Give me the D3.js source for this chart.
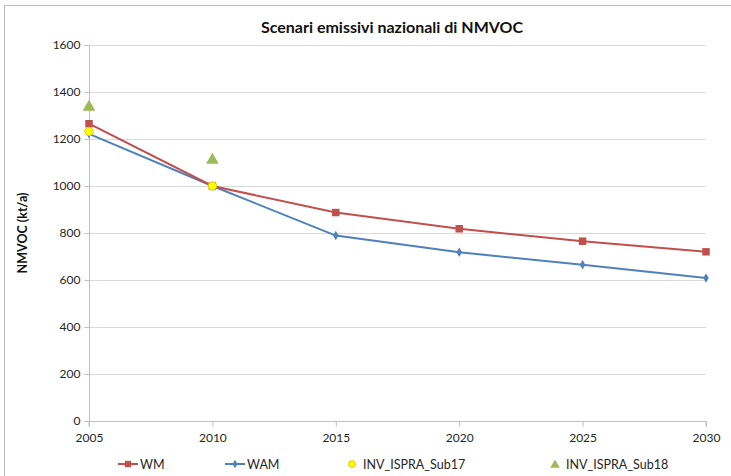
<!DOCTYPE html>
<html>
<head>
<meta charset="utf-8">
<script src="https://cdn.jsdelivr.net/npm/d3@7"></script>
<style>
  html, body { margin: 0; padding: 0; background: #fff; }
  svg { display: block; font-family: Lato, "Open Sans", sans-serif; }
</style>
</head>
<body>
<svg id="chart" width="731" height="476"></svg>
<script>
// Scenari emissivi nazionali di NMVOC (kt/a)
const years = [2005, 2010, 2015, 2020, 2025, 2030];
const wm = [1265, 1000, 887, 818, 765, 720];
const wam = [1222, 1000, 789, 718, 665, 609];
const sub17Years = [2005, 2010];
const sub17 = [1232, 1000];
const sub18Years = [2005, 2010];
const sub18 = [1340, 1115];
const yTicks = [0, 200, 400, 600, 800, 1000, 1200, 1400, 1600];
const xTicks = [2005, 2010, 2015, 2020, 2025, 2030];

const colors = { wm: "#C0504D", wam: "#4F81BD", sub17: "#FFFF00", sub17Stroke: "#E3C800", sub18: "#9BBB59" };

const svg = d3.select("#chart");

// outer chart frame
svg.append("rect").attr("x", 4.5).attr("y", 5.5).attr("width", 740).attr("height", 480)
  .attr("fill", "#fff").attr("stroke", "#bdbdbd").attr("stroke-width", 1);

const x = d3.scaleLinear().domain([2005, 2030]).range([89, 706]);
const y = d3.scaleLinear().domain([0, 1600]).range([421, 45]);

// gridlines
svg.append("g")
  .selectAll("line").data(yTicks.filter(d => d > 0)).join("line")
  .attr("x1", x(2005)).attr("x2", x(2030))
  .attr("y1", d => Math.round(y(d)) + 0.5).attr("y2", d => Math.round(y(d)) + 0.5)
  .attr("stroke", "#d9d9d9").attr("stroke-width", 1);

// y axis
const yAxis = svg.append("g").attr("transform", `translate(${x(2005) + 0.5},0)`)
  .call(d3.axisLeft(y).tickValues(yTicks).tickSize(5).tickPadding(4).tickFormat(d3.format("d")));
yAxis.select(".domain").attr("stroke", "#bfbfbf").attr("d", `M-5,${Math.round(y(0))+0.5}H0V${Math.round(y(1600))+0.5}H-5`);
yAxis.selectAll(".tick line").attr("stroke", "#bfbfbf");
yAxis.selectAll(".tick text").attr("font-size", 12).attr("fill", "#262626").style("font-family", "Lato, sans-serif");

// x axis
const xAxis = svg.append("g").attr("transform", `translate(0,${Math.round(y(0)) + 0.5})`)
  .call(d3.axisBottom(x).tickValues(xTicks).tickSize(5).tickPadding(7).tickFormat(d3.format("d")));
xAxis.select(".domain").attr("stroke", "#bfbfbf").attr("d", `M${x(2005)},5V0H${x(2030)}V5`);
xAxis.selectAll(".tick line").attr("stroke", "#bfbfbf");
xAxis.selectAll(".tick text").attr("font-size", 12).attr("fill", "#262626").style("font-family", "Lato, sans-serif");

// lines
const line = d3.line().x(d => x(d[0])).y(d => y(d[1]));
svg.append("path").datum(years.map((t, i) => [t, wam[i]]))
  .attr("d", line).attr("fill", "none").attr("stroke", colors.wam).attr("stroke-width", 2);
svg.append("path").datum(years.map((t, i) => [t, wm[i]]))
  .attr("d", line).attr("fill", "none").attr("stroke", colors.wm).attr("stroke-width", 2);

// markers
const sq = d3.symbol().type(d3.symbolSquare).size(56);
const dia = d3.symbol().type(d3.symbolDiamond).size(26);
const circ = d3.symbol().type(d3.symbolCircle).size(55);
const tri = d3.symbol().type(d3.symbolTriangle).size(70);

svg.append("g").selectAll("path").data(years.map((t, i) => [t, wam[i]])).join("path")
  .attr("transform", d => `translate(${x(d[0])},${y(d[1])})`).attr("d", dia).attr("fill", colors.wam);
svg.append("g").selectAll("path").data(years.map((t, i) => [t, wm[i]])).join("path")
  .attr("transform", d => `translate(${x(d[0])},${y(d[1])})`).attr("d", sq).attr("fill", colors.wm);
svg.append("g").selectAll("path").data(sub17Years.map((t, i) => [t, sub17[i]])).join("path")
  .attr("transform", d => `translate(${x(d[0])},${y(d[1])})`).attr("d", circ)
  .attr("fill", colors.sub17).attr("stroke", colors.sub17Stroke).attr("stroke-width", 1);
svg.append("g").selectAll("path").data(sub18Years.map((t, i) => [t, sub18[i]])).join("path")
  .attr("transform", d => `translate(${x(d[0])},${y(d[1]) + 1})`).attr("d", tri).attr("fill", colors.sub18);

// title
svg.append("text").attr("x", 392).attr("y", 33).attr("text-anchor", "middle")
  .attr("font-size", 16).attr("font-weight", "bold").attr("fill", "#111")
  .text("Scenari emissivi nazionali di NMVOC");

// y axis title
svg.append("text").attr("transform", "translate(27,233) rotate(-90)").attr("text-anchor", "middle")
  .attr("font-size", 12.5).attr("font-weight", "bold").attr("fill", "#111")
  .text("NMVOC (kt/a)");

// legend
const legend = svg.append("g").attr("font-size", 12.5).attr("fill", "#262626");
const ly = 464;
const items = [
  { label: "WM", x: 118, kind: "wm" },
  { label: "WAM", x: 225, kind: "wam" },
  { label: "INV_ISPRA_Sub17", x: 346, kind: "sub17" },
  { label: "INV_ISPRA_Sub18", x: 549, kind: "sub18" }
];
items.forEach(it => {
  const g = legend.append("g");
  if (it.kind === "wm" || it.kind === "wam") {
    const c = it.kind === "wm" ? colors.wm : colors.wam;
    g.append("line").attr("x1", it.x).attr("x2", it.x + 20).attr("y1", ly).attr("y2", ly)
      .attr("stroke", c).attr("stroke-width", 2);
    g.append("path").attr("transform", `translate(${it.x + 10},${ly})`)
      .attr("d", it.kind === "wm" ? d3.symbol().type(d3.symbolSquare).size(40)() : d3.symbol().type(d3.symbolDiamond).size(22)())
      .attr("fill", c);
    g.append("text").attr("x", it.x + 22).attr("y", ly + 4.5).text(it.label);
  } else {
    const isCirc = it.kind === "sub17";
    g.append("path").attr("transform", `translate(${it.x + 6},${ly + (isCirc ? 0 : 1)})`)
      .attr("d", isCirc ? d3.symbol().type(d3.symbolCircle).size(36)() : d3.symbol().type(d3.symbolTriangle).size(40)())
      .attr("fill", isCirc ? colors.sub17 : colors.sub18)
      .attr("stroke", isCirc ? colors.sub17Stroke : "none");
    g.append("text").attr("x", it.x + 17).attr("y", ly + 4.5).text(it.label);
  }
});
</script>
</body>
</html>
